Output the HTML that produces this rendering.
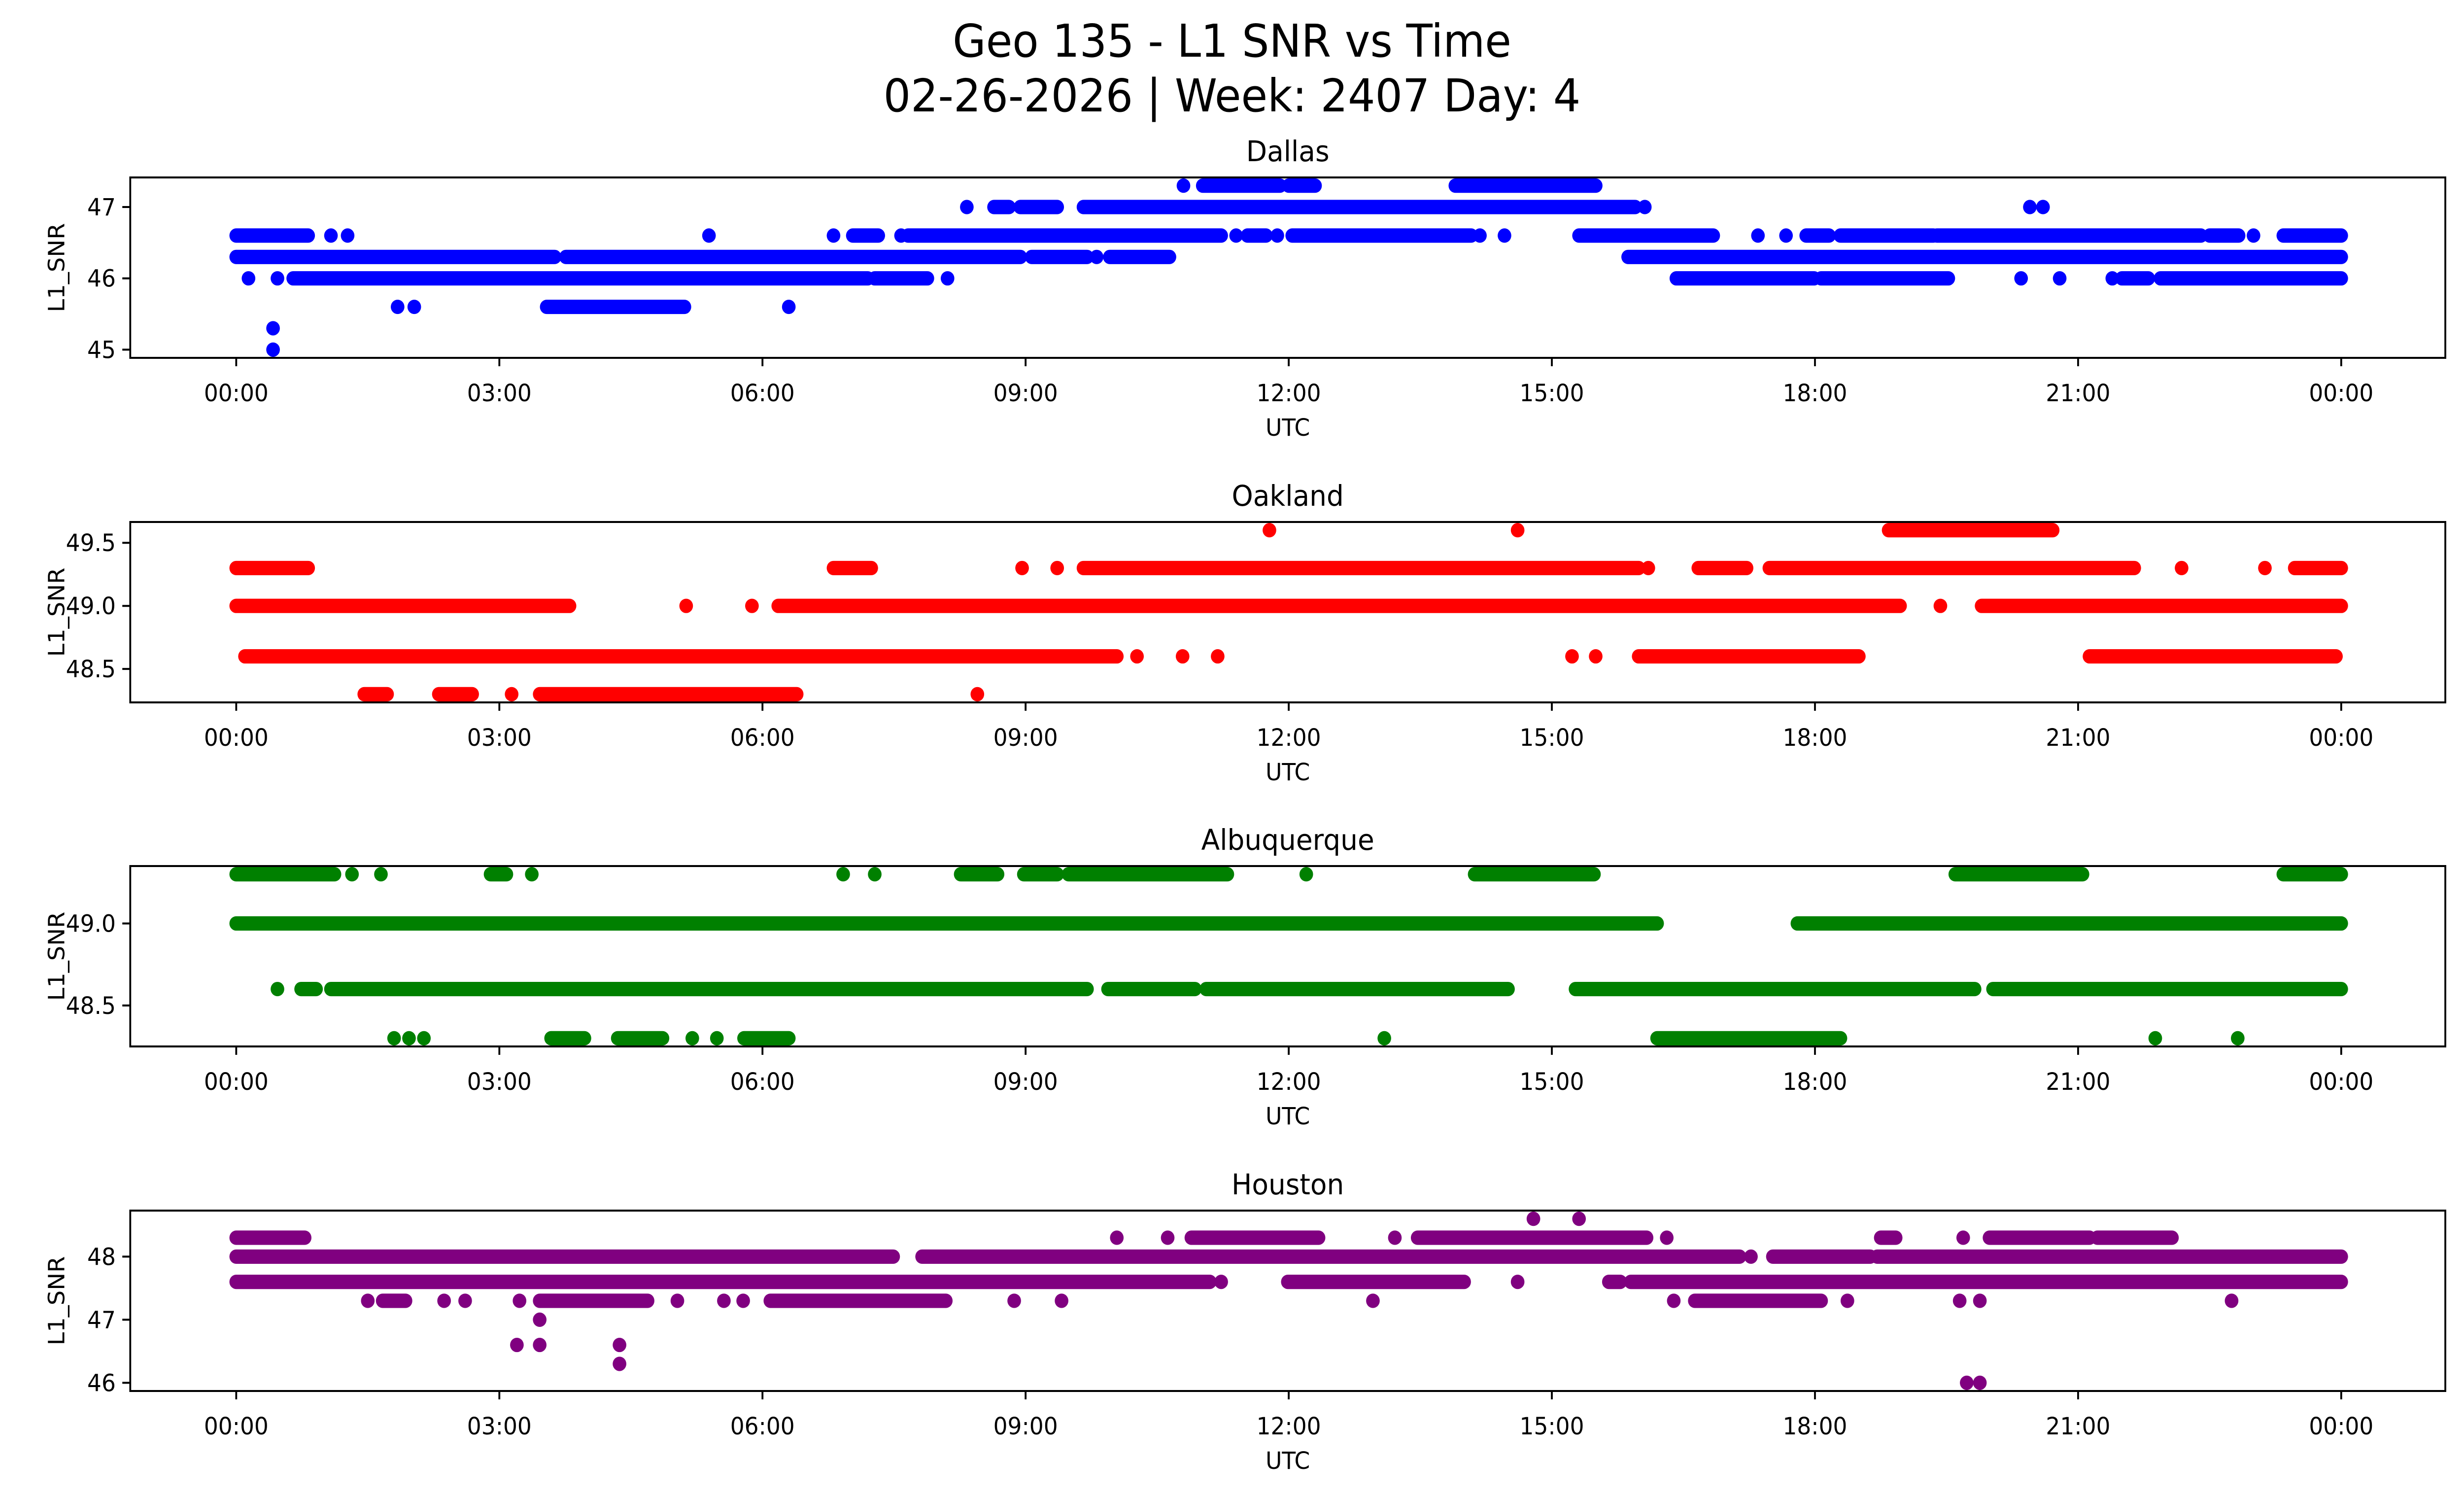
<!DOCTYPE html>
<html><head><meta charset="utf-8"><style>
html,body{margin:0;padding:0;background:#fff;overflow:hidden;width:100%;height:100%;}
svg{display:block;width:100vw;height:100vh;}
text{font-family:"DejaVu Sans","Liberation Sans",sans-serif;fill:#000;}
</style></head><body>
<svg id="fig" viewBox="0 0 5278 3033" preserveAspectRatio="none" xmlns="http://www.w3.org/2000/svg">
<rect width="5278" height="3033" fill="#fff"/>
<text x="2639" y="115" font-size="92" text-anchor="middle">Geo 135 - L1 SNR vs Time</text>
<text x="2639" y="226" font-size="92" text-anchor="middle">02-26-2026 | Week: 2407 Day: 4</text>
</svg>
<script>
// ---- data (hours UTC, [SNR, startHour, endHour]) ----
const xTickLabels = ["00:00","03:00","06:00","09:00","12:00","15:00","18:00","21:00","00:00"];
const xTickHours = [0,3,6,9,12,15,18,21,24];

const dallasTicks = [45,46,47];
const dallasRuns = [
[47.3,10.8,10.8],[47.3,11.02,11.9],[47.3,12.0,12.3],[47.3,13.9,15.5],
[47.0,8.33,8.33],[47.0,8.64,8.81],[47.0,8.94,9.36],[47.0,9.66,15.95],[47.0,16.06,16.06],[47.0,20.45,20.45],[47.0,20.6,20.6],
[46.6,0,0.82],[46.6,1.08,1.08],[46.6,1.27,1.27],[46.6,5.39,5.39],[46.6,6.81,6.81],[46.6,7.03,7.32],[46.6,7.58,7.58],[46.6,7.66,11.23],[46.6,11.4,11.4],[46.6,11.53,11.74],[46.6,11.87,11.87],[46.6,12.04,14.08],[46.6,14.18,14.18],[46.6,14.46,14.46],[46.6,15.31,16.84],[46.6,17.35,17.35],[46.6,17.67,17.67],[46.6,17.9,18.16],[46.6,18.29,19.35],[46.6,19.39,22.4],[46.6,22.5,22.83],[46.6,23.0,23.0],[46.6,23.34,24.0],
[46.3,0,3.63],[46.3,3.76,8.94],[46.3,9.07,9.7],[46.3,9.81,9.81],[46.3,9.96,10.64],[46.3,15.87,24.0],
[46.0,0.14,0.14],[46.0,0.47,0.47],[46.0,0.65,7.2],[46.0,7.28,7.88],[46.0,8.11,8.11],[46.0,16.42,17.99],[46.0,18.07,19.52],[46.0,20.35,20.35],[46.0,20.79,20.79],[46.0,21.39,21.39],[46.0,21.5,21.8],[46.0,21.94,24.0],
[45.6,1.84,1.84],[45.6,2.03,2.03],[45.6,3.54,5.11],[45.6,6.3,6.3],
[45.3,0.42,0.42],[45.0,0.42,0.42]
];

const oaklandTicks = [48.5,49.0,49.5];
const oaklandRuns = [
[49.6,11.78,11.78],[49.6,14.61,14.61],[49.6,18.84,20.71],
[49.3,0,0.82],[49.3,6.81,7.24],[49.3,8.96,8.96],[49.3,9.36,9.36],[49.3,9.66,15.99],[49.3,16.1,16.1],[49.3,16.67,17.22],[49.3,17.48,21.64],[49.3,22.18,22.18],[49.3,23.13,23.13],[49.3,23.47,24.0],
[49.0,0,3.8],[49.0,5.13,5.13],[49.0,5.88,5.88],[49.0,6.18,18.97],[49.0,19.43,19.43],[49.0,19.9,24.0],
[48.6,0.1,10.04],[48.6,10.27,10.27],[48.6,10.79,10.79],[48.6,11.19,11.19],[48.6,15.23,15.23],[48.6,15.5,15.5],[48.6,15.99,18.5],[48.6,21.13,23.94],
[48.3,1.46,1.72],[48.3,2.31,2.69],[48.3,3.14,3.14],[48.3,3.46,6.39],[48.3,8.45,8.45]
];

const albuquerqueTicks = [48.5,49.0];
const albuquerqueRuns = [
[49.3,0,1.12],[49.3,1.32,1.32],[49.3,1.65,1.65],[49.3,2.9,3.08],[49.3,3.37,3.37],[49.3,6.92,6.92],[49.3,7.28,7.28],[49.3,8.26,8.68],[49.3,8.98,9.36],[49.3,9.49,11.3],[49.3,12.2,12.2],[49.3,14.12,15.48],[49.3,19.6,21.05],[49.3,23.34,24.0],
[49.0,0,16.2],[49.0,17.8,24.0],
[48.6,0.47,0.47],[48.6,0.74,0.91],[48.6,1.08,9.7],[48.6,9.94,10.93],[48.6,11.06,14.5],[48.6,15.27,19.82],[48.6,20.03,24.0],
[48.3,1.8,1.8],[48.3,1.97,1.97],[48.3,2.14,2.14],[48.3,3.59,3.97],[48.3,4.35,4.86],[48.3,5.2,5.2],[48.3,5.48,5.48],[48.3,5.79,6.3],[48.3,13.09,13.09],[48.3,16.2,18.29],[48.3,21.88,21.88],[48.3,22.82,22.82]
];

const houstonTicks = [46,47,48];
const houstonRuns = [
[48.6,14.79,14.79],[48.6,15.31,15.31],
[48.3,0,0.78],[48.3,10.04,10.04],[48.3,10.62,10.62],[48.3,10.89,12.34],[48.3,13.21,13.21],[48.3,13.47,16.08],[48.3,16.31,16.31],[48.3,18.75,18.92],[48.3,19.69,19.69],[48.3,19.99,21.13],[48.3,21.22,22.07],
[48.0,0,7.49],[48.0,7.82,17.14],[48.0,17.27,17.27],[48.0,17.52,18.63],[48.0,18.71,24.0],
[47.6,0,11.1],[47.6,11.23,11.23],[47.6,11.99,14.0],[47.6,14.61,14.61],[47.6,15.65,15.78],[47.6,15.9,24.0],
[47.3,1.5,1.5],[47.3,1.67,1.93],[47.3,2.37,2.37],[47.3,2.61,2.61],[47.3,3.23,3.23],[47.3,3.46,4.69],[47.3,5.03,5.03],[47.3,5.56,5.56],[47.3,5.78,5.78],[47.3,6.09,8.09],[47.3,8.87,8.87],[47.3,9.41,9.41],[47.3,12.96,12.96],[47.3,16.39,16.39],[47.3,16.63,18.07],[47.3,18.37,18.37],[47.3,19.65,19.65],[47.3,19.88,19.88],[47.3,22.75,22.75],
[47.0,3.46,3.46],
[46.6,3.2,3.2],[46.6,3.46,3.46],[46.6,4.37,4.37],
[46.3,4.37,4.37],
[46.0,19.73,19.73],[46.0,19.88,19.88]
];

const panels = [
 {name:"dallas", title:"Dallas", color:"#0000ff", runs:dallasRuns, ticks:dallasTicks, fmt:v=>String(v), top:360},
 {name:"oakland", title:"Oakland", color:"#ff0000", runs:oaklandRuns, ticks:oaklandTicks, fmt:v=>v.toFixed(1), top:1059},
 {name:"albuquerque", title:"Albuquerque", color:"#008000", runs:albuquerqueRuns, ticks:albuquerqueTicks, fmt:v=>v.toFixed(1), top:1757},
 {name:"houston", title:"Houston", color:"#800080", runs:houstonRuns, ticks:houstonTicks, fmt:v=>String(v), top:2456}
];

const NS = "http://www.w3.org/2000/svg";
const svg = document.getElementById("fig");
const L = 279, R = 5238, H = 366, X0 = 506, X1 = 5015, MR = 14.6;
function xScale(h){ return X0 + (X1 - X0) * h / 24; }
function mk(tag, attrs, parent){
  const e = document.createElementNS(NS, tag);
  for (const k in attrs) e.setAttribute(k, attrs[k]);
  (parent || svg).appendChild(e);
  return e;
}

panels.forEach(p => {
  const g = mk("g", {});
  
  
  const vals = p.runs.map(r => r[0]);
  const lo = Math.min(...vals), hi = Math.max(...vals);
  const pad = (hi - lo) * 0.05;
  const y0 = lo - pad, y1 = hi + pad;
  const T = p.top, B = p.top + H;
  const yScale = v => B - (v - y0) / (y1 - y0) * H;

  const sg = mk("g", {fill: p.color, stroke: p.color}, g);
  
  
  p.runs.forEach(r => {
    const y = yScale(r[0]);
    let m;
    if (r[1] === r[2]) {
      m = mk("circle", {cx: xScale(r[1]), cy: y, r: MR, stroke: "none"}, sg);
    } else {
      m = mk("line", {x1: xScale(r[1]), x2: xScale(r[2]), y1: y, y2: y, "stroke-width": 2*MR, "stroke-linecap": "round"}, sg);
    }
    
    
  });

  const fr = mk("rect", {x: L, y: T, width: R - L, height: H, fill: "none", stroke: "#000", "stroke-width": 4}, g);
  
  

  xTickHours.forEach((h, i) => {
    const x = xScale(h);
    const tk = mk("line", {x1: x, x2: x, y1: B, y2: B + 17, stroke: "#000", "stroke-width": 4}, g);
    
    
    const t = mk("text", {x: x, y: B + 88, "font-size": 48, "text-anchor": "middle"}, g);
    t.textContent = xTickLabels[i];
    
    
  });
  p.ticks.forEach(v => {
    const y = yScale(v);
    const tk = mk("line", {x1: L - 17, x2: L, y1: y, y2: y, stroke: "#000", "stroke-width": 4}, g);
    
    
    const t = mk("text", {x: L - 31, y: y + 17, "font-size": 48, "text-anchor": "end"}, g);
    t.textContent = p.fmt(v);
    
    
  });
  const xl = mk("text", {x: (L + R) / 2, y: B + 158, "font-size": 48, "text-anchor": "middle"}, g);
  xl.textContent = "UTC";
  
  
  const cy = (T + B) / 2;
  const yl = mk("text", {x: 138, y: cy, "font-size": 48, "text-anchor": "middle", transform: "rotate(-90 138 " + cy + ")"}, g);
  yl.textContent = "L1_SNR";
  
  
  const tt = mk("text", {x: (L + R) / 2, y: T - 33, "font-size": 58, "text-anchor": "middle"}, g);
  tt.textContent = p.title;
  
  
});
</script>
</body></html>
